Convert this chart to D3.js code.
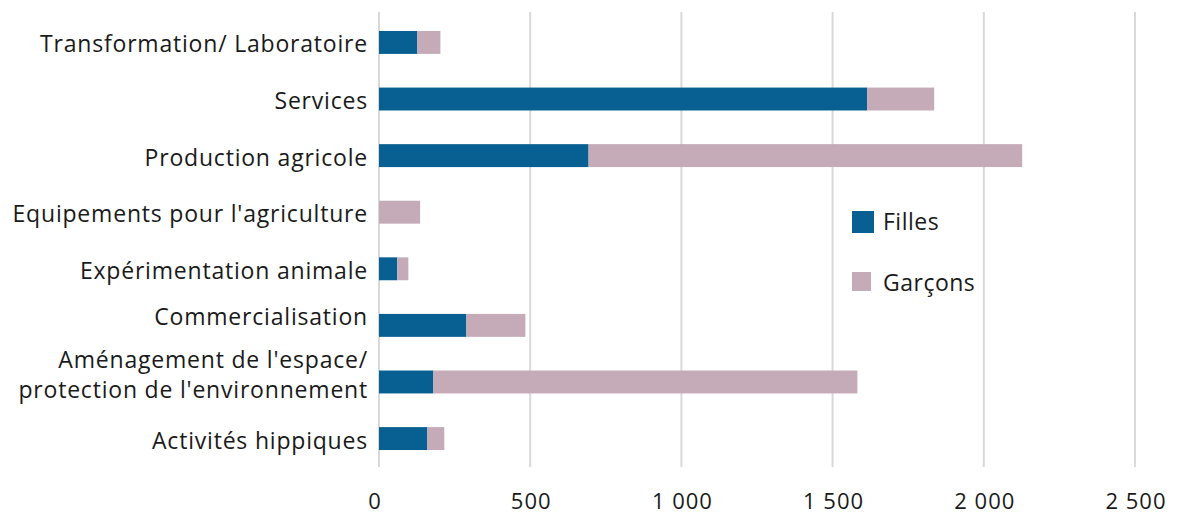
<!DOCTYPE html>
<html>
<head>
<meta charset="utf-8">
<script src="https://cdn.jsdelivr.net/npm/d3@7"></script>
<style>
  body { margin: 0; background: #fff; }
  text { font-family: "Open Sans", "Noto Sans", sans-serif; fill: #1a1a1a; }
</style>
</head>
<body>
<div id="chart"></div>
<script>
// data
const categories = [
  "Transformation/ Laboratoire",
  "Services",
  "Production agricole",
  "Equipements pour l'agriculture",
  "Expérimentation animale",
  "Commercialisation",
  "Aménagement de l'espace/\nprotection de l'environnement",
  "Activités hippiques"
];
const filles  = [127, 1614, 693, 0, 60, 289, 180, 160];
const garcons = [76, 222, 1434, 136, 37, 195, 1402, 56];
const seriesNames = ["Filles", "Garçons"];
const colors = ["#075f92", "#c4abb7"];
const xTicks = [0, 500, 1000, 1500, 2000, 2500];

const width = 1179, height = 515;
const margin = { top: 14, right: 44, bottom: 48, left: 379 };

const svg = d3.select("#chart")
  .append("svg")
  .attr("width", width)
  .attr("height", height);

const x = d3.scaleLinear()
  .domain([0, 2500])
  .range([margin.left, width - margin.right]);

const y = d3.scaleBand()
  .domain(categories)
  .range([margin.top, height - margin.bottom])
  .paddingInner(0.595)
  .paddingOuter(0.3);

// gridlines
svg.append("g")
  .selectAll("line")
  .data(xTicks)
  .join("line")
    .attr("x1", d => x(d))
    .attr("x2", d => x(d))
    .attr("y1", 12)
    .attr("y2", height - margin.bottom)
    .attr("stroke", "#d9d9d9")
    .attr("stroke-width", 2);

// stacked bars
const rows = categories.map((c, i) => ({ cat: c, Filles: filles[i], "Garçons": garcons[i] }));
const stacked = d3.stack().keys(seriesNames)(rows);

svg.append("g")
  .selectAll("g")
  .data(stacked)
  .join("g")
    .attr("fill", (d, i) => colors[i])
  .selectAll("rect")
  .data(d => d)
  .join("rect")
    .attr("x", d => x(d[0]))
    .attr("y", d => y(d.data.cat))
    .attr("width", d => x(d[1]) - x(d[0]))
    .attr("height", y.bandwidth());

// category labels (Commercialisation sits a bit higher in the original)
const labelX = margin.left - 11;
const nudge = d => d === "Commercialisation" ? -10 : 0;
const labels = svg.append("g")
  .selectAll("text")
  .data(categories)
  .join("text")
    .attr("text-anchor", "end")
    .attr("font-size", 23)
    .attr("letter-spacing", "0.8px")
    .attr("x", labelX)
    .attr("y", d => y(d) + y.bandwidth() / 2 + 10 + nudge(d));

labels.each(function(d) {
  const lines = d.split("\n");
  const t = d3.select(this);
  lines.forEach((l, k) => {
    t.append("tspan")
      .attr("x", labelX)
      .attr("dy", k === 0 ? (-(lines.length - 1) * 24) + "px" : "30px")
      .text(l);
  });
});

// x axis tick labels
const fmt = d => d3.format(",")(d).replace(/,/g, " ");
svg.append("g")
  .selectAll("text")
  .data(xTicks)
  .join("text")
    .attr("x", d => x(d) - (d === 0 ? 4 : -1))
    .attr("y", 509)
    .attr("text-anchor", "middle")
    .attr("font-size", 22)
    .attr("letter-spacing", "1px")
    .text(fmt);

// legend
const legend = svg.append("g")
  .selectAll("g")
  .data(seriesNames)
  .join("g")
    .attr("transform", (d, i) => `translate(852, ${211 + i * 61})`);

legend.append("rect")
  .attr("width", (d, i) => i === 0 ? 22 : 19)
  .attr("height", (d, i) => i === 0 ? 22 : 19)
  .attr("fill", (d, i) => colors[i]);

legend.append("text")
  .attr("x", 31)
  .attr("y", 11)
  .attr("dy", "0.35em")
  .attr("font-size", 23)
  .attr("letter-spacing", "0.5px")
  .text(d => d);
</script>
</body>
</html>
